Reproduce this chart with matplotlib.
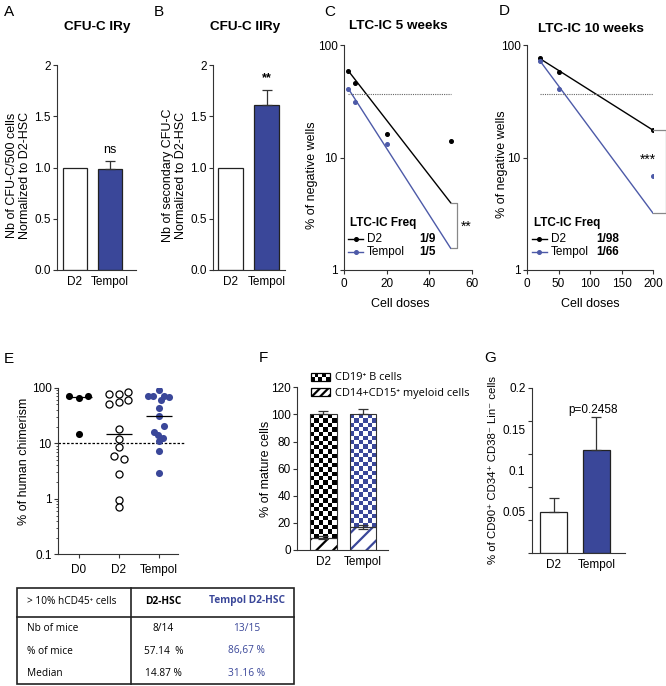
import numpy as np
import matplotlib
matplotlib.use('Agg')
import matplotlib.pyplot as plt
from matplotlib.patches import Rectangle
from matplotlib.legend_handler import HandlerBase
from matplotlib.colors import ListedColormap
import matplotlib.ticker as mticker

W, H = 666, 686
plt.rcParams['font.family'] = ['Liberation Sans', 'DejaVu Sans']
plt.rcParams['font.size'] = 8.5
plt.rcParams['axes.linewidth'] = 0.8
plt.rcParams['hatch.linewidth'] = 1.6

BLUE = '#3a4799'
LBLUE = '#4d5aa8'
SPINE = '#333333'
TICK = 8.5
LAB = 9
TITLE = 9.7
LETTER = 11

# ---------------- data ----------------
groups = ['D2', 'Tempol']
cfu1_vals = [1.0, 0.99]
cfu1_err = [0.0, 0.07]
cfu2_vals = [1.0, 1.61]
cfu2_err = [0.0, 0.15]

ltc5_dose_d2 = [2, 5, 20, 50]
ltc5_d2 = [59, 46, 16.2, 14.1]
ltc5_dose_tem = [2, 5, 20]
ltc5_tem = [41, 31, 13.2]
ltc5_fit_x = [2, 50]
ltc5_fit_d2 = [59, 3.96]
ltc5_fit_tem = [41, 1.56]
ltc5_freq = ['1/9', '1/5']

ltc10_dose = [20, 50, 200]
ltc10_d2 = [76, 57, 17.5]
ltc10_tem = [72, 40.4, 6.8]
ltc10_fit_x = [20, 200]
ltc10_fit_d2 = [76, 17.5]
ltc10_fit_tem = [73, 3.2]
ltc10_freq = ['1/98', '1/66']
neg_threshold = 37

chim_groups = ['D0', 'D2', 'Tempol']
chim_d0 = [71, 64, 71, 14.7]
chim_d2 = [77, 76.5, 84.7, 50.3, 56, 59.3, 17.8, 11.8, 8.7, 6.0, 5.2, 2.77, 0.95, 0.71]
chim_tem = [91, 71, 70, 72, 69, 60, 43.6, 31, 20.5, 16.2, 14, 12.5, 11, 7.3, 2.9]
chim_median = [67.7, 14.87, 31.16]
jit_d0 = [-0.25, 0, 0.23, 0]
jit_d2 = [-0.25, 0, 0.23, -0.25, 0, 0.23, 0, 0, 0, -0.125, 0.125, 0, 0, 0]
jit_tem = [0, -0.27, -0.14, 0.13, 0.25, 0.05, 0, 0, 0.13, -0.12, -0.03, 0.1, 0, 0, 0]

bcell = [91, 83]
myeloid = [9, 17]
myeloid_err = [1.0, 1.2]
total_err = [2.3, 4.0]

hsc_vals = [0.05, 0.125]
hsc_err = [0.016, 0.039]

tab_rows = ['Nb of mice', '% of mice', 'Median']
tab_d2 = ['8/14', '57.14  %', '14.87 %']
tab_tem = ['13/15', '86,67 %', '31.16 %']

# ---------------- helpers ----------------
fig = plt.figure(figsize=(6.66, 6.86), dpi=100)


def axpx(l, t, r, b):
    return fig.add_axes([l / W, 1 - b / H, (r - l) / W, (b - t) / H])


def style(ax):
    for s in ['top', 'right']:
        ax.spines[s].set_visible(False)
    for s in ['left', 'bottom']:
        ax.spines[s].set_color(SPINE)
        ax.spines[s].set_linewidth(0.8)
    ax.tick_params(direction='out', length=3, width=0.8, color=SPINE, labelsize=TICK, pad=1.5)


ov = fig.add_axes([0, 0, 1, 1], zorder=10)
ov.set_xlim(0, W)
ov.set_ylim(H, 0)
ov.axis('off')


def otext(x, y, s, **kw):
    kw.setdefault('va', 'center')
    ov.text(x, y, s, **kw)


# ---------------- A & B ----------------
def bar_panel(ax, vals, errs, xlim, star):
    style(ax)
    x = np.arange(len(vals))
    ax.bar(x, vals, width=0.69, color=['white', BLUE], edgecolor=['#222', '#222'], lw=0.9)
    ax.errorbar(x[1:], vals[1:], yerr=[[0], errs[1:]], fmt='none', ecolor='#333', capsize=3.5, lw=0.9, capthick=0.9)
    ax.set_xlim(*xlim)
    ax.set_ylim(0, 2)
    ax.set_yticks([0, 0.5, 1, 1.5, 2])
    ax.set_yticklabels(['0.0', '0.5', '1.0', '1.5', '2'])
    ax.set_xticks(x)
    ax.set_xticklabels(groups, fontsize=TICK)
    ax.tick_params(axis='x', length=0, pad=4)
    ax.text(1, vals[1] + errs[1] + 0.05, star, ha='center', va='bottom', fontsize=9,
            fontweight='bold' if '*' in star else 'normal')


axA = axpx(57, 65, 136, 270)
bar_panel(axA, cfu1_vals, cfu1_err, (-0.514, 1.75), 'ns')
axA.set_ylabel('Nb of CFU-C/500 cells\nNormalized to D2-HSC', fontsize=LAB, linespacing=1.1)
axA.yaxis.set_label_coords(-0.33, 0.46)

axB = axpx(213, 65, 285, 270)
bar_panel(axB, cfu2_vals, cfu2_err, (-0.49, 1.51), '**')
axB.set_ylabel('Nb of secondary CFU-C\nNormalized to D2-HSC', fontsize=LAB, linespacing=1.1)
axB.yaxis.set_label_coords(-0.36, 0.46)

otext(4, 12, 'A', fontsize=LETTER, ha='left')
otext(154, 12, 'B', fontsize=LETTER, ha='left')
otext(97, 27, 'CFU-C IRy', fontsize=TITLE, fontweight='bold', ha='center')
otext(245, 27, 'CFU-C IIRy', fontsize=TITLE, fontweight='bold', ha='center')


# ---------------- C & D ----------------
def ltc_panel(ax, dx_d2, y_d2, dx_tem, y_tem, fx, fd2, ftem, xlim, xticks, brx, starx, stary, stars):
    style(ax)
    ax.set_yscale('log')
    ax.plot(fx, fd2, color='black', lw=1.0)
    ax.plot(fx, ftem, color=LBLUE, lw=1.0)
    ax.plot(dx_d2, y_d2, 'o', ms=2.6, color='black', lw=0)
    ax.plot(dx_tem, y_tem, 'o', ms=2.6, color=LBLUE, lw=0)
    ax.hlines(neg_threshold, fx[0], fx[1], linestyles=(0, (1, 1)), colors='#666', lw=0.8)
    ax.plot([fx[1], brx, brx, fx[1]], [fd2[1], fd2[1], ftem[1], ftem[1]], color='#888', lw=0.9, clip_on=False)
    ax.text(starx, stary, stars, ha='center', va='center', fontsize=10)
    ax.set_xlim(*xlim)
    ax.set_ylim(1, 100)
    ax.set_xticks(xticks)
    ax.set_yticks([1, 10, 100])
    ax.set_yticklabels(['1', '10', '100'])
    ax.yaxis.set_minor_locator(mticker.NullLocator())
    ax.tick_params(axis='x', pad=3)


axC = axpx(344, 45, 472, 270)
ltc_panel(axC, ltc5_dose_d2, ltc5_d2, ltc5_dose_tem, ltc5_tem, ltc5_fit_x, ltc5_fit_d2, ltc5_fit_tem,
          (0, 60), [0, 20, 40, 60], 53, 57.5, 2.4, '**')
axC.set_ylabel('% of negative wells', fontsize=LAB)
axC.yaxis.set_label_coords(-0.2, 0.42)

axD = axpx(527, 45, 653, 270)
ltc_panel(axD, ltc10_dose, ltc10_d2, ltc10_dose, ltc10_tem, ltc10_fit_x, ltc10_fit_d2, ltc10_fit_tem,
          (0, 200), [0, 50, 100, 150, 200], 220, 192, 9.6, '***')
axD.set_ylabel('% of negative wells', fontsize=LAB)
axD.yaxis.set_label_coords(-0.15, 0.47)

otext(400, 304, 'Cell doses', fontsize=LAB, ha='center')
otext(590, 304, 'Cell doses', fontsize=LAB, ha='center')
otext(324, 12, 'C', fontsize=LETTER, ha='left')
otext(499, 11, 'D', fontsize=LETTER, ha='left')
otext(398, 26, 'LTC-IC 5 weeks', fontsize=TITLE, fontweight='bold', ha='center')
otext(591, 29, 'LTC-IC 10 weeks', fontsize=TITLE, fontweight='bold', ha='center')


def ltc_legend(x0, freqs, fqx):
    otext(x0 + 2, 222.7, 'LTC-IC Freq', fontsize=8.5, fontweight='bold', ha='left')
    for y, col, name, fq in [(239, 'black', 'D2', freqs[0]), (252.3, LBLUE, 'Tempol', freqs[1])]:
        ov.plot([x0, x0 + 15], [y, y], color=col, lw=1.0)
        ov.plot([x0 + 7.5], [y], 'o', ms=2.6, color=col)
        otext(x0 + 19, y, name, fontsize=8.5, ha='left')
        otext(fqx, y, fq, fontsize=8.5, fontweight='bold', ha='left')


ltc_legend(348, ltc5_freq, 419)
ltc_legend(531.7, ltc10_freq, 596)

# ---------------- E ----------------
axE = axpx(58, 387.7, 185, 554.4)
style(axE)
axE.set_yscale('log')
axE.scatter(np.array(jit_d0) + 0, chim_d0, s=26, c='black', zorder=3, lw=0)
axE.scatter(np.array(jit_d2) + 1, chim_d2, s=26, facecolors='white', edgecolors='black', lw=0.9, zorder=3)
axE.scatter(np.array(jit_tem) + 2, chim_tem, s=26, c=BLUE, zorder=3, lw=0)
xg = np.arange(len(chim_groups))
axE.hlines(chim_median, xg - 0.33, xg + 0.33, colors='black', lw=0.9, zorder=4)
axE.hlines(10, -0.525, 2.65, linestyles=(0, (2.0, 1.4)), colors='black', lw=0.9, zorder=2)
axE.set_xlim(-0.525, 2.65)
axE.set_ylim(0.1, 100)
axE.spines['bottom'].set_bounds(-0.525, 2.48)
axE.set_xticks(xg)
axE.set_xticklabels(chim_groups, fontsize=TICK)
axE.set_yticks([0.1, 1, 10, 100])
axE.set_yticklabels(['0.1', '1', '10', '100'])
axE.yaxis.set_minor_locator(mticker.LogLocator(subs=np.arange(2, 10)))
axE.yaxis.set_minor_formatter(mticker.NullFormatter())
axE.tick_params(axis='y', which='minor', length=1.8, width=0.6, color=SPINE)
axE.tick_params(axis='x', pad=4)
axE.set_ylabel('% of human chimerism', fontsize=LAB)
axE.yaxis.set_label_coords(-0.22, 0.56)
otext(4, 359, 'E', fontsize=LETTER, ha='left')

# ---------------- F ----------------
axF = axpx(297, 387.3, 388, 550)
style(axF)
bw = 0.67
fcol = ['black', BLUE]
for i in range(2):
    axF.bar(i, myeloid[i], width=bw, color='white', edgecolor=fcol[i], hatch='//', lw=0, zorder=2)
    axF.bar(i, myeloid[i], width=bw, fill=False, edgecolor='#333', lw=0.8, zorder=3)
    y0, y1 = myeloid[i], myeloid[i] + bcell[i]
    rows = int(round((y1 - y0) / 3.25))
    arr = np.add.outer(np.arange(rows), np.arange(6)) % 2
    axF.imshow(arr, cmap=ListedColormap(['white', fcol[i]]), extent=(i - bw / 2, i + bw / 2, y0, y1),
               aspect='auto', interpolation='nearest', origin='lower', zorder=2)
    axF.bar(i, bcell[i], bottom=myeloid[i], width=bw, fill=False, edgecolor='#333', lw=0.8, zorder=3)
    axF.errorbar(i, y1, yerr=[[0], [total_err[i]]], fmt='none', ecolor='#333', capsize=3.5, lw=0.9, capthick=0.9, zorder=4)
    axF.errorbar(i, y0, yerr=myeloid_err[i], fmt='none', ecolor='#333', capsize=3.5, lw=0.9, capthick=0.9, zorder=4)
axF.set_xlim(-0.66, 1.63)
axF.set_ylim(0, 120)
axF.set_yticks(np.arange(0, 121, 20))
axF.set_xticks([0, 1])
axF.set_xticklabels(groups, fontsize=TICK)
axF.tick_params(axis='x', length=0, pad=4)
axF.set_ylabel('% of mature cells', fontsize=LAB)
axF.yaxis.set_label_coords(-0.28, 0.5)
otext(259, 358, 'F', fontsize=LETTER, ha='left')


class CheckerHandler(HandlerBase):
    def create_artists(self, legend, orig_handle, xdescent, ydescent, width, height, fontsize, trans):
        arts = [Rectangle((-xdescent, -ydescent), width, height, facecolor='white',
                          edgecolor='black', lw=0.9, transform=trans)]
        nx, ny = 5, 2
        cw, ch = width / nx, height / ny
        for a in range(nx):
            for b in range(ny):
                if (a + b) % 2 == 0:
                    arts.append(Rectangle((-xdescent + a * cw, -ydescent + b * ch), cw, ch,
                                          facecolor='black', edgecolor='none', transform=trans))
        return arts


h1 = Rectangle((0, 0), 1, 1, label='CD19⁺ B cells')
h2 = Rectangle((0, 0), 1, 1, facecolor='white', edgecolor='black', hatch='////', lw=0.9,
               label='CD14+CD15⁺ myeloid cells')
fig.legend(handles=[h1, h2], handler_map={h1: CheckerHandler()}, loc='upper left',
           bbox_to_anchor=(311 / W, 1 - 372.5 / H), borderaxespad=0, borderpad=0, frameon=False,
           handlelength=1.7, handleheight=0.75, handletextpad=0.5, labelspacing=0.4,
           prop=dict(family=['Open Sans', 'DejaVu Sans'], size=7.9))

# ---------------- G ----------------
axG = axpx(531.7, 387.7, 625, 553)
style(axG)
axG.bar([0, 1], hsc_vals, width=0.64, color=['white', BLUE], edgecolor=['#222', '#222'], lw=0.9)
axG.errorbar([0, 1], hsc_vals, yerr=[[0, 0], hsc_err], fmt='none', ecolor='#333', capsize=3.5, lw=0.9, capthick=0.9)
axG.text(0.92, 0.173, 'p=0.2458', ha='center', va='center', fontsize=8.5)
axG.set_xlim(-0.515, 1.67)
axG.set_ylim(0, 0.2)
axG.yaxis.remove_overlapping_locs = False
axG.set_yticks(np.arange(0, 0.2001, 0.04))
axG.set_yticklabels([])
axG.set_yticks([0.05, 0.1, 0.15, 0.2], minor=True)
axG.set_yticklabels(['0.05', '0.1', '0.15', '0.2'], minor=True)
axG.tick_params(axis='y', which='minor', length=0, labelsize=TICK, pad=4.5)
axG.set_xticks([0, 1])
axG.set_xticklabels(groups, fontsize=TICK)
axG.tick_params(axis='x', length=0, pad=4)
axG.set_ylabel('% of CD90⁺ CD34⁺ CD38⁻ Lin⁻ cells', fontsize=8.2)
axG.yaxis.set_label_coords(-0.36, 0.5)
otext(484, 358, 'G', fontsize=LETTER, ha='left')

# ---------------- table ----------------
ov.add_patch(Rectangle((17.3, 588.3), 276.7, 96.0, fill=False, lw=1.2, edgecolor='#222'))
ov.plot([130.7, 130.7], [588.3, 684.3], color='#222', lw=1.2)
ov.plot([17.3, 294], [616.7, 616.7], color='#222', lw=1.2)
tfont = ['Open Sans', 'DejaVu Sans']
otext(26.7, 601, '> 10% hCD45⁺ cells', fontsize=7.3, ha='left', family=tfont)
otext(163.3, 601, 'D2-HSC', fontsize=7.3, ha='center', fontweight='bold', family=tfont)
otext(246.7, 601, 'Tempol D2-HSC', fontsize=7.3, ha='center', fontweight='bold', family=tfont, color=BLUE)
for y, r, a, b in zip([628.3, 651, 674], tab_rows, tab_d2, tab_tem):
    otext(26.7, y, r, fontsize=7.3, ha='left', family=tfont)
    otext(163.3, y, a, fontsize=7.3, ha='center', family=tfont)
    otext(246.7, y, b, fontsize=7.3, ha='center', family=tfont, color=BLUE)

fig.savefig('out.png', dpi=100)
